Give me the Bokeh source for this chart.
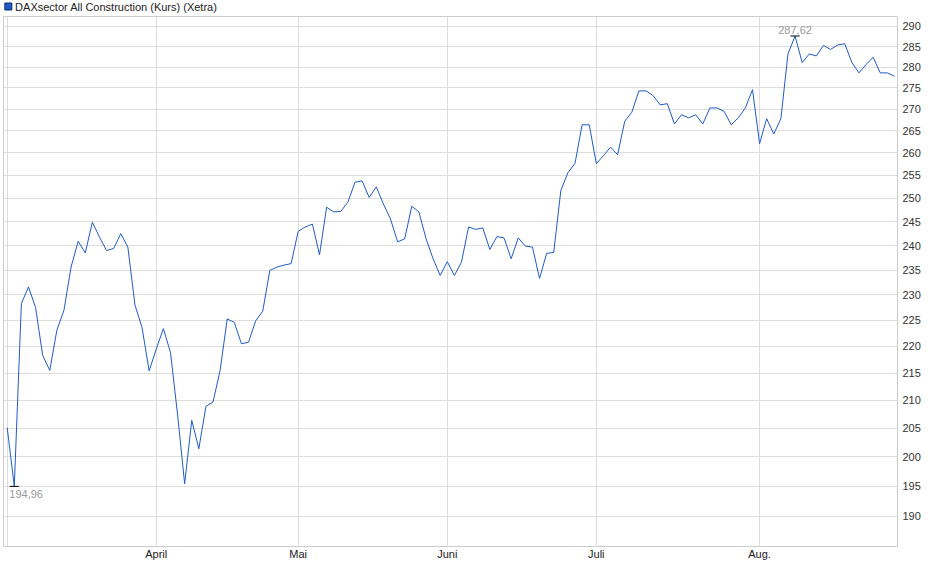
import numpy as np
from bokeh.plotting import figure
from bokeh.layouts import column
from bokeh.models import FixedTicker, PrintfTickFormatter, Range1d
from bokeh.embed import file_html
from bokeh.resources import INLINE
from bokeh.core.properties import value

series_name = "DAXsector All Construction (Kurs) (Xetra)"

prices = [
    205.1, 194.96, 228.3, 231.6, 227.5, 218.3, 215.5, 223.1, 227.0, 235.6,
    240.9, 238.5, 244.9, 241.8, 239.0, 239.4, 242.5, 239.7, 228.0, 223.6,
    215.4, 219.5, 223.4, 218.9, 207.5, 195.4, 206.4, 201.4, 208.9, 209.7,
    215.5, 225.3, 224.6, 220.5, 220.8, 224.9, 226.8, 234.9, 235.6, 236.0,
    236.3, 243.0, 243.9, 244.5, 238.1, 248.1, 247.1, 247.2, 249.2, 253.5,
    253.8, 250.2, 252.5, 248.8, 245.6, 240.8, 241.4, 248.3, 247.1, 241.5,
    237.3, 233.9, 236.7, 233.9, 236.6, 243.9, 243.4, 243.7, 239.2, 241.9,
    241.6, 237.3, 241.6, 239.9, 239.7, 233.3, 238.4, 238.6, 251.7, 255.6,
    257.7, 266.4, 266.4, 257.6, 259.4, 261.3, 259.6, 267.2, 269.3, 274.3,
    274.3, 273.2, 271.0, 271.3, 266.6, 268.7, 268.0, 268.7, 266.6, 270.3,
    270.3, 269.5, 266.4, 268.0, 270.3, 274.6, 262.1, 267.8, 264.3, 267.8,
    283.2, 287.62, 281.1, 283.2, 282.7, 285.3, 284.3, 285.4, 285.7, 281.1,
    278.6, 280.6, 282.4, 278.6, 278.6, 277.8,
]
day_index = list(range(len(prices)))

month_ticks = [0, 21, 41, 62, 83, 106]
month_labels = ["", "April", "Mai", "Juni", "Juli", "Aug."]
y_ticks = list(range(190, 291, 5))

LINE = "#1f5bc6"
FONT = "Liberation Sans"
W = 924
HEADER_H = 16

# ---- header (legend) ----
hdr = figure(width=W, height=HEADER_H, x_range=Range1d(0, W),
             y_range=Range1d(0, HEADER_H), x_axis_type=None, y_axis_type=None,
             output_backend="svg", toolbar_location=None, min_border=0)
hdr.outline_line_color = None
hdr.background_fill_color = "white"
hdr.border_fill_color = "white"
hdr.xgrid.visible = False
hdr.ygrid.visible = False
hdr.scatter(x=[5], y=[10], marker="square", size=7, fill_color=LINE,
            line_color="#0b2a66", line_width=1)
hdr.text(x=[12], y=[10], text=[series_name], text_align="left",
         text_baseline="middle", text_font=value(FONT),
         text_font_size="11px", text_color="#222222")

# ---- main chart ----
p = figure(width=W, height=563 - HEADER_H, y_axis_type="log",
           y_axis_location="right",
           x_range=Range1d(-0.52, 125.43), y_range=Range1d(185.1, 292.5),
           output_backend="svg", toolbar_location=None,
           min_border_left=3, min_border_top=0, min_border_right=27,
           min_border_bottom=17)
p.background_fill_color = "white"
p.border_fill_color = "white"
p.outline_line_color = "#cccccc"

p.line(day_index, prices, line_color=LINE, line_width=1)

# min / max markers
i_min = int(np.argmin(prices))
i_max = int(np.argmax(prices))
v_min = prices[i_min]
v_max = prices[i_max]
p.segment(x0=[i_min - 0.65, i_max - 0.65], y0=[v_min, v_max],
          x1=[i_min + 0.65, i_max + 0.65], y1=[v_min, v_max],
          line_color="black", line_width=1)
fmt = lambda v: f"{v:.2f}".replace(".", ",")
p.text(x=[i_min], y=[v_min], text=[fmt(v_min)], text_align="left",
       text_baseline="top", x_offset=-5, y_offset=4,
       text_font=value(FONT), text_font_size="11px", text_color="#999999")
p.text(x=[i_max], y=[v_max], text=[fmt(v_max)], text_align="center",
       text_baseline="bottom", y_offset=-2,
       text_font=value(FONT), text_font_size="11px", text_color="#999999")

# axes
yt = FixedTicker(ticks=y_ticks)
p.yaxis.ticker = yt
p.ygrid.ticker = yt
p.yaxis.formatter = PrintfTickFormatter(format="%d")
p.yaxis.minor_tick_line_color = None
p.yaxis.major_tick_line_color = None
p.yaxis.major_tick_out = 0
p.yaxis.major_tick_in = 0
p.yaxis.minor_tick_out = 0
p.yaxis.axis_line_color = None
p.yaxis.major_label_standoff = 5
p.yaxis.major_label_text_font = FONT
p.yaxis.major_label_text_font_size = "11px"
p.yaxis.major_label_text_color = "#333333"

xt = FixedTicker(ticks=month_ticks)
p.xaxis.ticker = xt
p.xgrid.ticker = xt
p.xaxis.major_label_overrides = {t: l for t, l in zip(month_ticks, month_labels)}
p.xaxis.minor_tick_line_color = None
p.xaxis.major_tick_line_color = None
p.xaxis.major_tick_out = 0
p.xaxis.major_tick_in = 0
p.xaxis.minor_tick_out = 0
p.xaxis.axis_line_color = None
p.xaxis.major_label_standoff = 1
p.xaxis.major_label_text_font = FONT
p.xaxis.major_label_text_font_size = "11px"
p.xaxis.major_label_text_color = "#222222"

p.xgrid.grid_line_color = "#dddddd"
p.ygrid.grid_line_color = "#dddddd"

layout = column(hdr, p, spacing=0)
open("out.html", "w").write(file_html(layout, INLINE))
